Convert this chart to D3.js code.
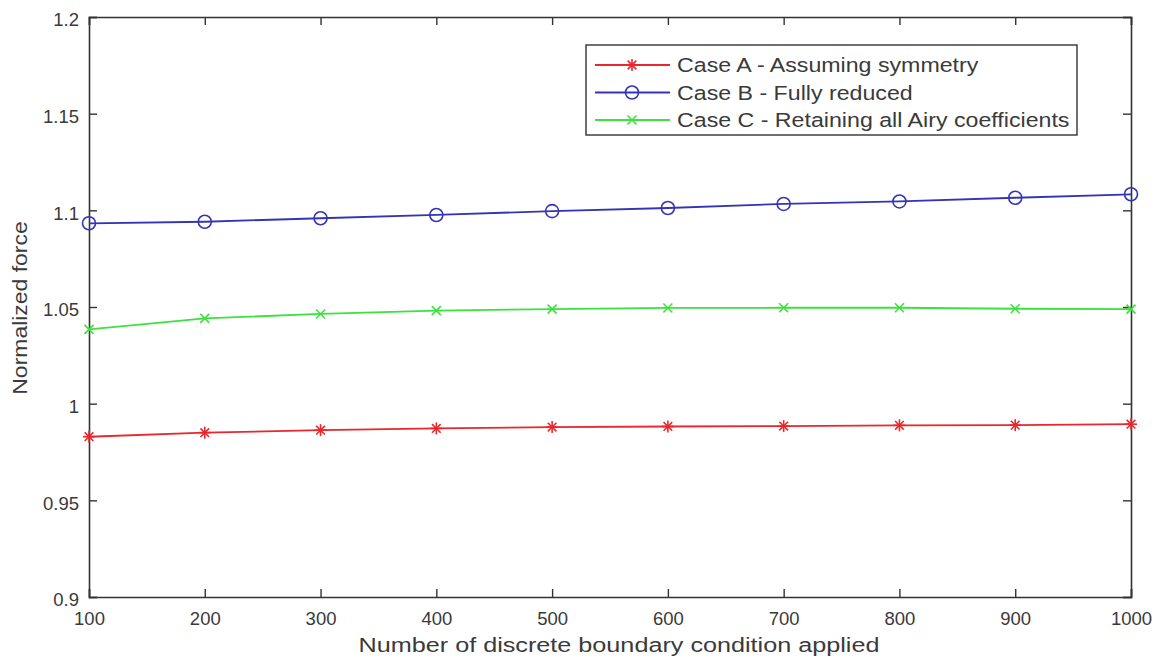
<!DOCTYPE html>
<html>
<head>
<meta charset="utf-8">
<script src="https://cdn.jsdelivr.net/npm/d3@7"></script>
<style>
  html, body { margin: 0; padding: 0; background: #fff; }
  svg { display: block; font-family: "Liberation Sans", Arial, sans-serif; }
</style>
</head>
<body>
<svg id="chart" width="1156" height="660"></svg>
<script>
// Boundary-condition counts on the x axis
const boundaryCounts = [100, 200, 300, 400, 500, 600, 700, 800, 900, 1000];

// Normalized force for each modelling case
const caseA = [0.9829, 0.9850, 0.9863, 0.9872, 0.9879, 0.9882, 0.9884, 0.9888, 0.9889, 0.9894];
const caseB = [1.0933, 1.0941, 1.0959, 1.0976, 1.0996, 1.1012, 1.1033, 1.1046, 1.1065, 1.1083];
const caseC = [1.0384, 1.0441, 1.0464, 1.0481, 1.0489, 1.0495, 1.0496, 1.0496, 1.0491, 1.0489];

const seriesNames = [
  "Case A - Assuming symmetry",
  "Case B - Fully reduced",
  "Case C - Retaining all Airy coefficients"
];

const xTicks = [100, 200, 300, 400, 500, 600, 700, 800, 900, 1000];
const yTicks = [0.9, 0.95, 1, 1.05, 1.1, 1.15, 1.2];

const svg = d3.select("#chart");
const plotLeft = 89, plotRight = 1131, plotTop = 17, plotBottom = 597;
const axisColor = "#333";
const textColor = "#3a3a3a";

const x = d3.scaleLinear().domain([100, 1000]).range([plotLeft, plotRight]);
const y = d3.scaleLinear().domain([0.9, 1.2]).range([plotBottom, plotTop]);

const tickFont = 18.5;

// Axes: inward ticks on all four sides, MATLAB box style
const gx = svg.append("g").attr("transform", `translate(0,${plotBottom})`)
  .call(d3.axisBottom(x).tickValues(xTicks).tickSize(-8).tickPadding(15).tickFormat(d3.format("d")));
const gxTop = svg.append("g").attr("transform", `translate(0,${plotTop})`)
  .call(d3.axisTop(x).tickValues(xTicks).tickSize(-8).tickFormat(""));
const gy = svg.append("g").attr("transform", `translate(${plotLeft},0)`)
  .call(d3.axisLeft(y).tickValues(yTicks).tickSize(-8).tickPadding(10).tickFormat(d => String(+d.toFixed(2))));
const gyRight = svg.append("g").attr("transform", `translate(${plotRight},0)`)
  .call(d3.axisRight(y).tickValues(yTicks).tickSize(-8).tickFormat(""));

[gx, gxTop, gy, gyRight].forEach(g => {
  g.select(".domain").attr("stroke", axisColor).attr("stroke-width", 1.6);
  g.selectAll(".tick line").attr("stroke", axisColor).attr("stroke-width", 1.4);
  g.selectAll(".tick text").attr("fill", textColor).style("font-size", tickFont + "px")
    .style("font-family", "'Liberation Sans', Arial, sans-serif");
});
gy.selectAll(".tick text").attr("dy", "0.48em");

// Axis titles (slightly wide lettering)
svg.append("text")
  .attr("transform", "translate(619,652) scale(1.2,1)")
  .attr("text-anchor", "middle").attr("fill", textColor)
  .style("font-size", "21px")
  .text("Number of discrete boundary condition applied");

svg.append("text")
  .attr("transform", `translate(27,308) rotate(-90) scale(1.12,1)`)
  .attr("text-anchor", "middle").attr("fill", textColor)
  .style("font-size", "20.5px")
  .text("Normalized force");

// Marker drawers
function drawStar(g, cx, cy, color, s) {
  const p = g.append("g").attr("stroke", color).attr("stroke-width", 1.6).attr("fill", "none");
  p.append("line").attr("x1", cx - s).attr("x2", cx + s).attr("y1", cy).attr("y2", cy);
  p.append("line").attr("x1", cx).attr("x2", cx).attr("y1", cy - s).attr("y2", cy + s);
  const d = s * 0.72;
  p.append("line").attr("x1", cx - d).attr("x2", cx + d).attr("y1", cy - d).attr("y2", cy + d);
  p.append("line").attr("x1", cx - d).attr("x2", cx + d).attr("y1", cy + d).attr("y2", cy - d);
}
function drawCircle(g, cx, cy, color, r) {
  g.append("circle").attr("cx", cx).attr("cy", cy).attr("r", r)
    .attr("fill", "none").attr("stroke", color).attr("stroke-width", 1.6);
}
function drawCross(g, cx, cy, color, s) {
  const p = g.append("g").attr("stroke", color).attr("stroke-width", 1.6);
  p.append("line").attr("x1", cx - s).attr("x2", cx + s).attr("y1", cy - s).attr("y2", cy + s);
  p.append("line").attr("x1", cx - s).attr("x2", cx + s).attr("y1", cy + s).attr("y2", cy - s);
}

const series = [
  { name: seriesNames[0], values: caseA, color: "#e8282c", marker: (g, a, b) => drawStar(g, a, b, "#e8282c", 6) },
  { name: seriesNames[1], values: caseB, color: "#3434b4", marker: (g, a, b) => drawCircle(g, a, b, "#3434b4", 6.5) },
  { name: seriesNames[2], values: caseC, color: "#3ce23c", marker: (g, a, b) => drawCross(g, a, b, "#3ce23c", 4.5) }
];

const line = d3.line().x(d => x(d[0])).y(d => y(d[1]));
const plot = svg.append("g");
series.forEach(s => {
  const pts = boundaryCounts.map((c, i) => [c, s.values[i]]);
  plot.append("path").datum(pts).attr("d", line)
    .attr("fill", "none").attr("stroke", s.color).attr("stroke-width", 1.8);
  const mg = plot.append("g");
  pts.forEach(p => s.marker(mg, x(p[0]), y(p[1])));
});

// Legend
const lg = svg.append("g");
lg.append("rect").attr("x", 586).attr("y", 45).attr("width", 491).attr("height", 90)
  .attr("fill", "#fff").attr("stroke", axisColor).attr("stroke-width", 1.4);
series.forEach((s, i) => {
  const cy = 65 + i * 27.5;
  lg.append("line").attr("x1", 595).attr("x2", 670).attr("y1", cy).attr("y2", cy)
    .attr("stroke", s.color).attr("stroke-width", 1.8);
  s.marker(lg, 632, cy);
  lg.append("text").attr("transform", `translate(677,${cy}) scale(1.12,1)`).attr("dy", "0.36em")
    .attr("fill", textColor).style("font-size", "20.7px").text(s.name);
});
</script>
</body>
</html>
